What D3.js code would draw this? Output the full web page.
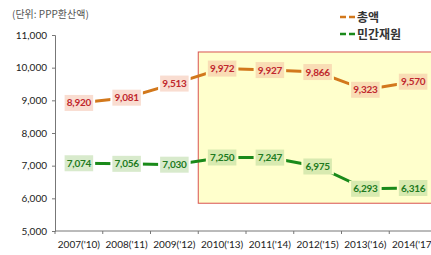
<html>
<head>
  <meta charset="utf-8">
  <script src="https://d3js.org/d3.v7.min.js"></script>
  <style>
    body { margin: 0; background: #fff; }
    text { font-family: Lato, "Noto Sans CJK KR", sans-serif; }
    .kr { font-family: "Noto Sans CJK KR", sans-serif; }
  </style>
</head>
<body>
  <div id="chart"></div>
  <script>
    // data
    var categories = ["2007('10)", "2008('11)", "2009('12)", "2010('13)", "2011('14)", "2012('15)", "2013('16)", "2014('17)"];
    var totalValues = [8920, 9081, 9513, 9972, 9927, 9866, 9323, 9570];
    var privateValues = [7074, 7056, 7030, 7250, 7247, 6975, 6293, 6316];
    var yTicks = [5000, 6000, 7000, 8000, 9000, 10000, 11000];
    var seriesNames = ['총액', '민간재원'];
    // highlighted period: from 4th category on, value range of the box
    var highlightFrom = 3;
    var highlightTop = 10480, highlightBottom = 5850;

    var width = 431, height = 255;
    var x = d3.scaleBand().domain(categories).range([55, 437]).padding(0);
    var y = d3.scaleLinear().domain([5000, 11000]).range([231, 35]);

    var svg = d3.select('#chart').append('svg')
                .attr('width', width)
                .attr('height', height);

    // highlight box
    svg.append('rect')
       .attr('x', x(categories[highlightFrom]))
       .attr('y', y(highlightTop))
       .attr('width', 440 - x(categories[highlightFrom]))
       .attr('height', y(highlightBottom) - y(highlightTop))
       .style('fill', '#ffffcc')
       .style('stroke', '#d9534f')
       .style('stroke-width', 1);

    // y axis
    var y_axis = d3.axisLeft(y).tickValues(yTicks).tickSize(3).tickFormat(d3.format(','));
    var gy = svg.append('g').attr('transform', 'translate(55,0)').call(y_axis);
    gy.select('.domain').style('stroke', '#777');
    gy.selectAll('.tick line').style('stroke', '#777');
    gy.selectAll('.tick text').attr('x', -8).style('font-size', '10px').style('fill', '#222');

    // x axis: ticks at category boundaries
    var gx = svg.append('g');
    gx.append('line').attr('x1', 55).attr('x2', 440).attr('y1', y(5000)).attr('y2', y(5000)).style('stroke', '#777');
    gx.selectAll('.xt').data(categories).enter().append('line')
      .attr('x1', function(d) { return x(d); }).attr('x2', function(d) { return x(d); })
      .attr('y1', y(5000)).attr('y2', y(5000) + 3)
      .style('stroke', '#777');
    gx.selectAll('.xl').data(categories).enter().append('text')
      .attr('x', function(d) { return x(d) + x.bandwidth() / 2; })
      .attr('y', 248)
      .attr('text-anchor', 'middle')
      .style('font-size', '10px')
      .style('fill', '#222')
      .text(function(d) { return d; });

    // unit title
    svg.append('text').attr('class', 'kr')
       .attr('x', 12).attr('y', 18)
       .style('font-size', '10px').style('fill', '#555')
       .text('(단위: PPP환산액)');

    var series = [
      {name: seriesNames[0], values: totalValues, line: '#d2781c', text: '#c0282d', box: '#f2b49a'},
      {name: seriesNames[1], values: privateValues, line: '#1a8a1a', text: '#217a21', box: '#a8d08d'}
    ];

    var line_function = d3.line()
                          .x(function(d, i) { return x(categories[i]) + x.bandwidth() / 2; })
                          .y(function(d) { return y(d); });

    var lineLayer = svg.append('g');
    var labelLayer = svg.append('g');

    series.forEach(function(s) {
      lineLayer.append('path')
               .attr('d', line_function(s.values))
               .style('fill', 'none')
               .style('stroke', s.line)
               .style('stroke-width', 3);

      s.values.forEach(function(v, i) {
        var cx = x(categories[i]) + x.bandwidth() / 2, cy = y(v);
        var bg = i >= highlightFrom ? '#ffffcc' : '#ffffff';
        var g = labelLayer.append('g');
        var gap = g.append('rect');
        var rect = g.append('rect');
        var t = g.append('text')
                 .attr('x', cx).attr('y', cy + 3.5)
                 .attr('text-anchor', 'middle')
                 .style('font-size', '10px')
                 .style('font-weight', 'bold')
                 .style('letter-spacing', '-0.3px')
                 .style('fill', s.text)
                 .text(d3.format(',')(v));
        var bb = t.node().getBBox();
        var bw = bb.width + 4, bh = 16;
        gap.attr('x', cx - bw / 2 - 2).attr('y', cy - bh / 2)
           .attr('width', bw + 4).attr('height', bh)
           .style('fill', bg);
        rect.attr('x', cx - bw / 2).attr('y', cy - bh / 2)
            .attr('width', bw).attr('height', bh)
            .style('fill', s.box).style('fill-opacity', 0.45);
      });
    });

    // legend
    var legend = svg.append('g');
    series.forEach(function(s, i) {
      var ly = 17 + i * 17;
      legend.append('line')
            .attr('x1', 340).attr('x2', 355).attr('y1', ly).attr('y2', ly)
            .style('stroke', s.line).style('stroke-width', 2.5)
            .style('stroke-dasharray', '6,3');
      legend.append('text').attr('class', 'kr')
            .attr('x', 357).attr('y', ly + 4.5)
            .style('font-size', '12px').style('font-weight', 'bold').style('fill', '#333')
            .text(s.name);
    });
  </script>
</body>
</html>
